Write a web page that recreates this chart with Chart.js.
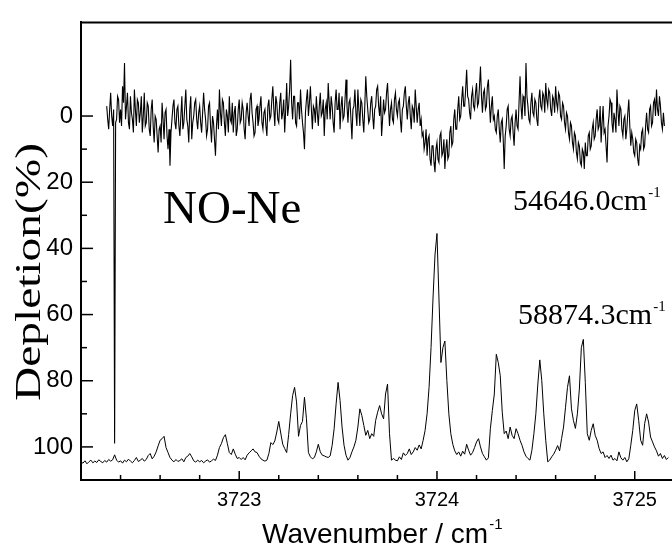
<!DOCTYPE html>
<html>
<head>
<meta charset="utf-8">
<script src="https://cdn.jsdelivr.net/npm/chart.js@4/dist/chart.umd.min.js"></script>
<style>
  html, body { margin: 0; padding: 0; background: #fff; overflow: hidden; width: 672px; height: 546px; }
  #wrap { width: 700px; height: 546px; }
</style>
</head>
<body>
<div id="wrap"><canvas id="c" width="700" height="546"></canvas></div>
<script>
// Sampling grids of the two scans (cm^-1)
const upperStart = 3722.33, upperStep = 0.005;   // scan at 54646.0 cm^-1
const lowerStart = 3722.20, lowerStep = 0.01;    // scan at 58874.3 cm^-1

// Depletion (%) of the upper scan, one value per grid step
const upperDepletion = [
  -3, 1, 4, -2, -7, 0, 3, -2, 99, 2, 1, -6, -5, 2,
  -2, 3, -9, -4, -16, 1, -3, -7, 2, 4, -6, -1, 1, 5, -8, -2, 3, -5, -4, 2,
  -1, -6, 5, 0, -7, 3, 2, -4, -3, 4, 6, -2, -5, 3, 8, 0, 1, 6, 11, 4,
  3, 8, -4, 1, 7, -1, -2, 6, 10, 4, 15, 5, 1, -3, -5, 2, 4, -2, -3, 3,
  6, 0, -6, 4, 2, -3, -8, 1, 3, 8, -2, -6, 7, 2, 0, -4, -5, 1, 4, -1,
  -3, 2, 5, -1, -7, -2, 1, 6, 4, -3, -4, 3, 8, 0, 2, 7, 12, 3, -2, 4,
  -8, -1, 3, -5, -4, 2, 6, -2, 0, 5, -6, 1, 2, -4, 5, -1, -3, 6, 4, -2,
  -5, 2, 1, -4, -2, 4, 7, -1, -4, 0, 3, -5, -7, -1, 2, 6, 5, -2, -3, 3,
  1, -3, -6, 2, 4, -1, -2, 3, 6, -3, -5, 1, 0, -5, -9, -2, 3, -6, -4, 1,
  2, -4, -7, 1, -1, -5, 5, -2, -10, 0, -3, -8, -17, -4, 1, -6, -6, 2, 3, -4,
  -4, 1, -8, -2, 2, 5, 10, -1, -5, -8, 0, -4, -9, -2, 4, -3, -2, 2, -6, -1,
  3, -3, -7, 0, -1, -5, 6, -2, -4, 1, -10, -4, 1, -6, -3, 2, 5, -4, -8, -2,
  -2, -7, 4, -3, -6, 1, 0, -5, -11, -3, 2, -4, -5, 1, 7, -2, -3, -8, -1, 3,
  -8, -2, 3, -5, -4, 1, 5, -3, -12, -6, -2, 2, 1, -4, -6, 0, 4, -2, -3, -8,
  -9, -3, 0, -6, 6, 1, -5, -1, -2, -7, -10, -3, 3, -2, -4, 1, 2, -5, -7, -2,
  0, -4, -5, 1, 5, -2, -3, -7, -9, -3, 1, -4, -6, 0, 4, -3, -2, 2, -8, -3,
  2, -2, -4, 3, 1, 6, 5, 10, 8, 4, 12, 7, 6, 13, 15, 9, 9, 14, 17, 10,
  8, 13, 14, 6, 5, 12, 11, 7, 16, 10, 7, 13, 12, 5, 3, 9, 8, 1, -2, 4,
  4, -2, -6, 1, 0, -5, -9, -3, -3, -8, -14, -6, -5, -1, 1, -6, -8, -3, -2, -7,
  -10, -3, -4, -9, -15, -6, -1, -7, -8, -2, -3, -9, -11, -4, 2, -3, -6, 1, 0, 4,
  5, 0, -2, 4, 8, 2, 1, 7, 16, 6, 3, -2, -3, 4, 6, 1, 0, 5, 9, 2,
  -2, 3, 4, -4, -12, -3, 1, -6, -5, 0, -16, -6, -3, 1, 2, -4, -7, -1, 0, -5,
  -4, 1, 3, -5, -8, -3, -2, -7, -6, -1, -10, -5, -3, -8, -7, -2, 0, -6, -5, -1,
  -9, -4, -2, -7, -6, 0, 1, -4, -3, 2, 4, -1, 0, 5, 7, 2, 3, 8, 10, 5,
  6, 11, 13, 8, 9, 14, 15, 10, 11, 16, 8, 12, 12, 6, 5, 10, 9, 4, 2, 7,
  6, 1, -2, 4, 3, -3, 8, 2, -3, 5, 4, 9, 14, 3, 0, -5, -4, 2, 5, -1,
  1, 5, -8, -2, 3, -3, -2, 4, 6, 1, 0, 7, 4, -1, -5, 3, 9, 5, 7, 11,
  12, 7, 8, 13, 15, 9, 10, 5, 4, 10, 9, 3, -1, 4, 5, -2, -3, 3, 2, -4,
  -5, 0, -8, -2, 0, -6, -3, 2, 4, -1, 3
];

// Depletion (%) of the lower scan, one value per grid step
const lowerDepletion = [
  104.6, 104.9, 104.2, 105.1, 104.5, 104.0, 104.8, 104.3, 104.7, 103.9,
  104.4, 104.8, 104.1, 104.6, 103.8, 104.3, 103.9, 102.4, 104.0, 104.6,
  104.2, 104.9, 104.0, 104.5, 103.7, 104.3, 104.8, 104.1, 103.2, 104.4,
  104.0, 103.5, 104.3, 103.8, 102.6, 102.0, 103.6, 102.8, 101.5, 99.7,
  98.0, 97.5, 96.8, 100.2, 101.7, 103.2, 104.0, 104.5, 103.8, 104.4,
  104.1, 103.6, 104.5, 103.2, 102.8, 102.0, 103.0, 104.2, 104.6, 104.0,
  104.5, 104.1, 104.8, 104.3, 103.9, 104.6, 104.2, 103.7, 104.1, 102.5,
  100.2, 99.0, 97.2, 96.3, 99.0, 101.7, 102.3, 100.6, 102.2, 103.5,
  103.2, 103.8, 103.2, 103.9, 102.5, 101.8, 101.2, 100.6, 101.5, 101.7,
  102.8, 103.6, 104.0, 104.3, 104.0, 102.0, 98.7, 99.3, 98.2, 95.5,
  92.3, 95.8, 99.2, 100.5, 101.7, 96.3, 90.0, 84.5, 82.0, 86.4,
  96.8, 93.5, 92.3, 85.0, 91.5, 101.7, 103.0, 103.6, 103.2, 101.5,
  99.2, 101.5, 102.5, 102.7, 103.0, 103.2, 102.7, 99.5, 94.5, 87.0,
  80.5, 86.0, 94.0, 99.5, 102.5, 104.0, 103.2, 101.5, 100.0, 98.0,
  94.0, 88.5, 90.5, 93.5, 96.5, 95.0, 97.5, 96.0, 96.8, 92.0,
  89.5, 87.5, 90.0, 91.5, 84.0, 81.0, 96.0, 104.0, 103.5, 104.0,
  104.2, 103.0, 103.8, 101.8, 102.6, 102.0, 100.6, 102.3, 101.5, 100.2,
  101.0, 99.4, 100.6, 98.0, 95.0, 90.0, 82.0, 70.0, 55.0, 42.0,
  35.5, 55.0, 74.5, 70.0, 68.0, 80.0, 90.0, 96.0, 99.2, 101.2,
  102.3, 101.5, 102.8, 101.3, 102.2, 99.2, 101.0, 102.5, 101.7, 100.2,
  98.5, 97.5, 100.0, 102.0, 103.0, 104.0, 103.3, 94.5, 89.0, 84.0,
  72.0, 74.5, 78.5, 89.5, 96.0, 95.2, 97.5, 94.0, 96.5, 97.5,
  94.5, 96.0, 98.0, 99.5, 101.5, 102.8, 103.5, 104.0, 101.0, 96.0,
  90.0, 81.0, 73.7, 80.0, 90.0, 98.0, 104.5, 104.0, 103.0, 102.2,
  101.0, 99.6, 101.2, 97.5, 94.0, 88.0, 82.0, 78.5, 88.5, 92.0,
  94.4, 90.0, 82.5, 70.0, 67.5, 80.5, 96.0, 98.0, 95.0, 93.0,
  96.5, 98.0, 100.5, 102.0, 101.5, 103.2, 102.6, 103.5, 102.5, 104.0,
  103.5, 104.2, 101.5, 103.3, 104.0, 103.2, 104.5, 103.6, 99.5, 95.0,
  89.0, 87.0, 92.0, 98.0, 99.5, 93.0, 90.0, 92.5, 97.0, 98.5,
  100.0, 101.2, 102.8, 102.0, 103.5, 102.6, 103.8, 103.2
];

// Axis ranges and ticks
const xMin = 3722.2, xMax = 3725.33;
const yMin = -28.3, yMax = 110;
const xTickLabels = [3723, 3724, 3725];
const xMinorTicks = [3722.4, 3722.6, 3722.8, 3723.2, 3723.4, 3723.6, 3723.8,
                     3724.2, 3724.4, 3724.6, 3724.8, 3725.2];
const yTickLabels = [0, 20, 40, 60, 80, 100];
const yMinorTicks = [10, 30, 50, 70, 90];

const toPoints = (start, step, vals) => vals.map((v, i) => ({ x: +(start + i * step).toFixed(3), y: v }));

const SERIF = '"Liberation Serif", "Times New Roman", serif';
const SANS = '"Liberation Sans", Arial, Helvetica, sans-serif';

// Frame top edge and inward tick marks
const framePlugin = {
  id: 'frame',
  afterDatasetsDraw(chart) {
    const { ctx, chartArea: a, scales: { x, y } } = chart;
    ctx.save();
    ctx.strokeStyle = '#000';
    ctx.lineWidth = 2;
    ctx.beginPath();
    ctx.moveTo(a.left - 1, a.top);
    ctx.lineTo(a.right, a.top);
    ctx.stroke();
    ctx.lineWidth = 1.5;
    const seg = (x0, y0, x1, y1) => { ctx.beginPath(); ctx.moveTo(x0, y0); ctx.lineTo(x1, y1); ctx.stroke(); };
    yTickLabels.forEach(v => { const p = y.getPixelForValue(v); seg(a.left, p, a.left + 12, p); });
    yMinorTicks.forEach(v => { const p = y.getPixelForValue(v); seg(a.left, p, a.left + 6, p); });
    xTickLabels.forEach(v => { const p = x.getPixelForValue(v); seg(p, a.bottom, p, a.bottom - 9); });
    xMinorTicks.forEach(v => { const p = x.getPixelForValue(v); seg(p, a.bottom, p, a.bottom - 5); });
    ctx.restore();
  }
};

// Axis titles and trace labels
const textPlugin = {
  id: 'texts',
  afterDraw(chart) {
    const { ctx } = chart;
    ctx.save();
    ctx.fillStyle = '#000';
    ctx.textBaseline = 'alphabetic';
    ctx.textAlign = 'left';

    const withSup = (main, sup, font, supFont, x, y, rise) => {
      ctx.font = font;
      ctx.fillText(main, x, y);
      const w = ctx.measureText(main).width;
      ctx.font = supFont;
      ctx.fillText(sup, x + w + 1, y - rise);
    };

    ctx.font = '47px ' + SERIF;
    ctx.fillText('NO-Ne', 163, 223);

    withSup('54646.0cm', '-1', '30px ' + SERIF, '15px ' + SERIF, 513, 210, 13);
    withSup('58874.3cm', '-1', '30px ' + SERIF, '15px ' + SERIF, 518, 324, 13);

    withSup('Wavenumber / cm', '-1', '28px ' + SANS, '15px ' + SANS, 262, 543, 14);

    // rotated, slightly widened y title
    ctx.font = '35px ' + SERIF;
    const label = 'Depletion(%)';
    const w = ctx.measureText(label).width;
    ctx.translate(40, 272);
    ctx.rotate(-Math.PI / 2);
    ctx.scale(258 / w, 1);
    ctx.textAlign = 'center';
    ctx.fillText(label, 0, 0);
    ctx.restore();
  }
};

new Chart(document.getElementById('c'), {
  type: 'line',
  data: {
    datasets: [
      { label: '54646.0', data: toPoints(upperStart, upperStep, upperDepletion), borderColor: '#000', borderWidth: 1.1, pointRadius: 0, tension: 0 },
      { label: '58874.3', data: toPoints(lowerStart, lowerStep, lowerDepletion), borderColor: '#000', borderWidth: 1, pointRadius: 0, tension: 0 }
    ]
  },
  options: {
    responsive: false,
    animation: false,
    events: [],
    layout: { padding: { top: 11, left: 0, right: 0, bottom: 0 } },
    plugins: { legend: { display: false }, tooltip: { enabled: false } },
    scales: {
      x: {
        type: 'linear', min: xMin, max: xMax,
        grid: { display: false, drawTicks: false },
        border: { display: true, color: '#000', width: 2 },
        ticks: { color: '#000', font: { family: SANS, size: 20 }, padding: 8, maxRotation: 0, callback: v => String(v) },
        afterBuildTicks: s => { s.ticks = xTickLabels.map(v => ({ value: v })); },
        afterFit: s => { s.height = 66; }
      },
      y: {
        type: 'linear', reverse: true, min: yMin, max: yMax,
        grid: { display: false, drawTicks: false },
        border: { display: true, color: '#000', width: 2 },
        ticks: { color: '#000', font: { family: SANS, size: 24 }, padding: 8, callback: v => String(v) },
        afterBuildTicks: s => { s.ticks = yTickLabels.map(v => ({ value: v })); },
        afterFit: s => { s.width = 81; }
      }
    }
  },
  plugins: [framePlugin, textPlugin]
});
</script>
</body>
</html>
